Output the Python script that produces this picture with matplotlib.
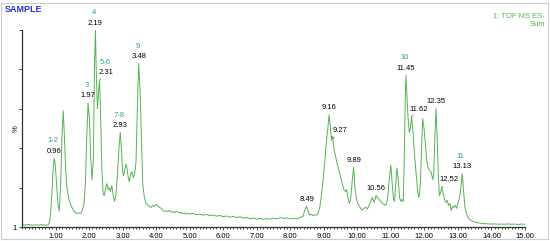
import matplotlib
matplotlib.use('Agg')
import matplotlib.pyplot as plt
from matplotlib.ticker import MultipleLocator
from matplotlib.patches import Rectangle

plt.rcParams['font.family'] = ['Liberation Sans', 'DejaVu Sans']

# retention time (min) and relative intensity (%)
time = [0.0, 0.1, 0.2, 0.3, 0.4, 0.5, 0.6, 0.7, 0.78, 0.82, 0.86, 0.9, 0.93,
        0.96, 0.99, 1.03, 1.07, 1.11, 1.15, 1.19, 1.23, 1.26, 1.3, 1.34, 1.4,
        1.46, 1.52, 1.58, 1.64, 1.7, 1.75, 1.8, 1.85, 1.89, 1.93, 1.97, 2.01,
        2.05, 2.09, 2.13, 2.16, 2.19, 2.22, 2.25, 2.28, 2.31, 2.34, 2.38, 2.42,
        2.45, 2.5, 2.53, 2.57, 2.6, 2.64, 2.68, 2.72, 2.76, 2.8, 2.85, 2.9,
        2.93, 2.97, 3.0, 3.03, 3.06, 3.1, 3.13, 3.16, 3.2, 3.24, 3.28, 3.32,
        3.36, 3.4, 3.44, 3.48, 3.52, 3.56, 3.6, 3.65, 3.7, 3.75, 3.8, 3.85,
        3.9, 3.95, 4.0, 4.05, 4.1, 4.15, 4.2, 4.25, 4.3, 4.35, 4.4, 4.45, 4.5,
        4.55, 4.6, 4.65, 4.7, 4.75, 4.8, 4.85, 4.9, 4.95, 5.0, 5.1, 5.2, 5.3,
        5.4, 5.5, 5.6, 5.7, 5.8, 5.9, 6.0, 6.1, 6.2, 6.3, 6.4, 6.5, 6.6, 6.7,
        6.8, 6.9, 7.0, 7.1, 7.2, 7.3, 7.4, 7.5, 7.6, 7.7, 7.8, 7.9, 8.0, 8.1,
        8.2, 8.3, 8.38, 8.44, 8.49, 8.53, 8.58, 8.63, 8.68, 8.73, 8.78, 8.83,
        8.88, 8.93, 8.98, 9.03, 9.08, 9.12, 9.16, 9.2, 9.23, 9.25, 9.27, 9.3,
        9.35, 9.4, 9.45, 9.5, 9.55, 9.6, 9.65, 9.68, 9.72, 9.76, 9.8, 9.84,
        9.89, 9.93, 9.97, 10.01, 10.05, 10.1, 10.15, 10.2, 10.25, 10.3, 10.35,
        10.4, 10.45, 10.5, 10.53, 10.56, 10.6, 10.65, 10.7, 10.75, 10.8, 10.85,
        10.9, 10.95, 11.0, 11.04, 11.08, 11.11, 11.14, 11.18, 11.22, 11.26,
        11.3, 11.34, 11.37, 11.4, 11.43, 11.45, 11.48, 11.51, 11.55, 11.58,
        11.62, 11.66, 11.7, 11.75, 11.8, 11.84, 11.88, 11.92, 11.95, 11.99,
        12.03, 12.07, 12.11, 12.15, 12.2, 12.25, 12.28, 12.31, 12.35, 12.38,
        12.42, 12.45, 12.49, 12.52, 12.56, 12.6, 12.64, 12.68, 12.72, 12.76,
        12.8, 12.84, 12.88, 12.92, 12.96, 13.0, 13.05, 13.09, 13.13, 13.17,
        13.21, 13.26, 13.32, 13.4, 13.5, 13.6, 13.7, 13.8, 13.9, 14.0, 14.1,
        14.2, 14.3, 14.4, 14.5, 14.6, 14.7, 14.8, 14.9, 15.0]
intensity = [1.2, 1.0, 1.3, 0.9, 1.1, 1.0, 1.2, 0.9, 1.1, 2.5, 8, 20, 30,
             35, 32, 22, 12, 8, 20, 45, 59, 48, 30, 20, 14,
             11, 9, 7.5, 6.8, 7.2, 7, 8.5, 12, 22, 45, 63, 55,
             35, 24, 35, 80, 100, 75, 60, 68, 74.6, 60, 30, 17,
             16, 20, 22, 19, 20, 18, 21, 16, 13, 16, 28, 42,
             48, 38, 28, 26, 29, 32, 30, 26, 23, 27, 28, 25,
             27, 33, 60, 83, 70, 45, 22, 15, 12, 11, 10.5, 10,
             11, 10.5, 11.5, 10.8, 10, 9.5, 8.5, 8, 8.2, 7.8, 8.5, 7.5, 7.8,
             7.2, 8.2, 7.5, 7, 7.6, 6.8, 7.2, 6.5, 7, 6.6, 7, 6.2, 6.5,
             6, 6.4, 5.8, 6.1, 5.5, 5.9, 5.3, 5.6, 5, 5.4, 4.8, 5.2, 4.5, 4.9,
             4.2, 4.6, 4, 4.4, 3.9, 4.3, 4, 4.5, 4.2, 4.8, 4.4, 4.6, 4.1, 4.4,
             4.2, 4.8, 5.5, 9, 10.6, 8, 6, 6.5, 5.8, 6.2, 6, 7,
             10, 16, 24, 33, 44, 50, 57, 50, 44, 46, 45, 40,
             36, 32, 29, 25.5, 22, 19, 18, 19, 15, 12, 14, 22,
             30, 20, 15, 12, 11, 9.5, 8.6, 9.5, 10, 9.2, 11,
             13, 15, 12.5, 14, 16, 15, 14, 13, 12, 11.5, 11,
             14, 24, 31.5, 22, 14, 13, 20, 30, 24, 15,
             13, 14, 13, 35, 65, 77, 66, 56, 48, 50,
             56, 48, 38, 28, 18, 15, 22, 42, 55, 50,
             42, 34, 30, 29, 28, 24, 27, 45, 60, 45,
             25, 16, 18, 20, 17, 14, 12.5, 13.5, 11, 12,
             8.5, 10.5, 10, 11, 9.5, 12, 15, 20, 27, 18,
             10, 6.5, 4.5, 3.2, 2.5, 2.1, 1.9, 1.7, 1.6, 1.5, 1.6,
             1.4, 1.5, 1.4, 1.6, 1.4, 1.5, 1.3, 1.5, 1.4]

# labelled peaks: time, peak number (None = no number)
peak_times = [0.96, 1.97, 2.19, 2.31, 2.93, 3.48, 8.49, 9.16, 9.27, 9.89,
              10.56, 11.45, 11.62, 12.35, 12.52, 13.13]
peak_groups = ['1-2', '3', '4', '5-6', '7-8', '9', None, None, None, None,
               None, '10', None, None, None, '11']
leader_peaks = [2.31, 9.27, 11.62, 12.52]

xtick_vals = list(range(1, 16))

green = '#55b255'
teal = '#2f9e8c'

fig = plt.figure(figsize=(5.5, 2.41), dpi=100)
ax = fig.add_axes([0.04, 0.058, 0.9145, 0.8174])

ax.plot(time, intensity, color=green, lw=0.7)

ax.set_xlim(0, 15)
ax.set_ylim(0, 100)

ax.set_xticks(xtick_vals)
ax.set_xticklabels(['%.2f' % v for v in xtick_vals])
ax.xaxis.set_minor_locator(MultipleLocator(0.1))
ax.set_yticks([0, 20, 40, 60, 80, 100])
ax.set_yticklabels(['1', '', '', '', '', ''])
ax.tick_params(axis='both', labelsize=5.5, color='#333333', width=0.6, pad=1.5)
ax.tick_params(axis='x', which='major', length=2.5)
ax.tick_params(axis='x', which='minor', length=1.5, width=0.5)
ax.tick_params(axis='y', length=2)

for s in ['top', 'right']:
    ax.spines[s].set_visible(False)
for s in ['left', 'bottom']:
    ax.spines[s].set_color('#333333')
    ax.spines[s].set_linewidth(0.9)

ax.text(-0.012, 0.5, '%', transform=ax.transAxes, rotation=90,
        fontsize=5.5, ha='center', va='center')

for t, g in zip(peak_times, peak_groups):
    y = intensity[time.index(t)]
    if t in leader_peaks:
        dx = 5
        ax.annotate('%.2f' % t, xy=(t, y), xytext=(dx, 3),
                    textcoords='offset points', fontsize=5.5,
                    ha='center', va='bottom',
                    arrowprops=dict(arrowstyle='-', color='#555555', lw=0.5,
                                    shrinkA=0, shrinkB=0))
    else:
        dx = 0
        ax.annotate('%.2f' % t, xy=(t, y), xytext=(0, 2.5),
                    textcoords='offset points', fontsize=5.5,
                    ha='center', va='bottom')
    if g is not None:
        ax.annotate(g, xy=(t, y), xytext=(dx - 1, 10),
                    textcoords='offset points', fontsize=5.5, color=teal,
                    ha='center', va='bottom')

fig.text(5 / 550, 1 - 9 / 241, 'SAMPLE', color='#2233cc', fontsize=6.5,
         fontweight='bold', ha='left', va='center')
fig.text(545 / 550, 1 - 17 / 241, '1: TOF MS ES-', color=green, fontsize=5.5,
         ha='right', va='center')
fig.text(545 / 550, 1 - 24 / 241, 'Sum', color=green, fontsize=5.5,
         ha='right', va='center')

fig.add_artist(Rectangle((0.002, 0.008), 0.994, 0.98, transform=fig.transFigure,
                         fill=False, edgecolor='#cccccc', lw=0.8))

fig.savefig('out.png', dpi=100)
